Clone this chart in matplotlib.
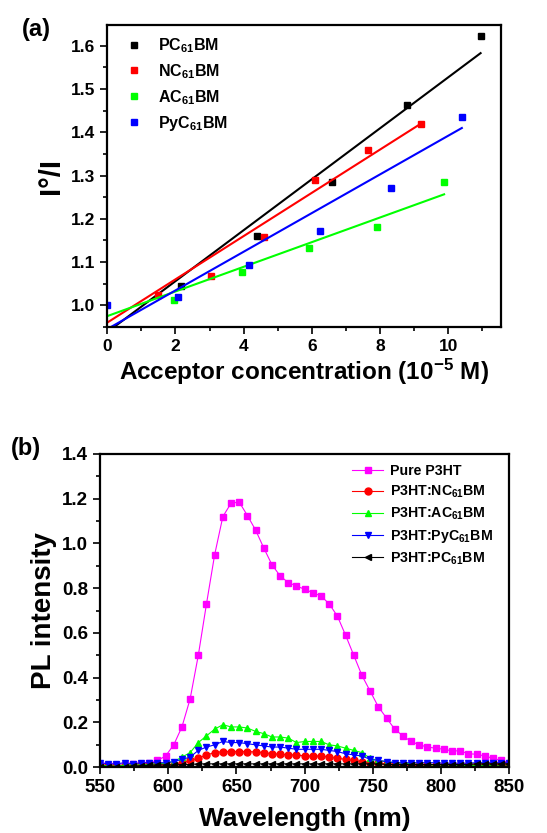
import numpy as np
import matplotlib
matplotlib.use("Agg")
import matplotlib.pyplot as plt
from matplotlib.ticker import MultipleLocator, FormatStrFormatter

plt.rcParams["font.family"] = ["Liberation Sans", "DejaVu Sans"]
plt.rcParams["font.weight"] = "bold"
plt.rcParams["mathtext.fontset"] = "custom"
plt.rcParams["mathtext.rm"] = "Liberation Sans:bold"
plt.rcParams["mathtext.it"] = "Liberation Sans:bold"
plt.rcParams["mathtext.bf"] = "Liberation Sans:bold"

# ---- panel (a): Stern-Volmer data ----
pc_x = [2.15, 4.4, 6.6, 8.8, 10.95]
pc_y = [1.045, 1.16, 1.285, 1.462, 1.623]
nc_x = [1.5, 3.05, 4.6, 6.1, 7.65, 9.2]
nc_y = [1.025, 1.068, 1.157, 1.29, 1.358, 1.42]
ac_x = [1.97, 3.95, 5.92, 7.9, 9.88]
ac_y = [1.012, 1.078, 1.133, 1.18, 1.285]
py_x = [0.0, 2.08, 4.15, 6.25, 8.33, 10.4]
py_y = [1.0, 1.02, 1.093, 1.172, 1.272, 1.435]

# linear fits (slope, intercept, x end)
pc_fit = (0.0589, 0.938, 10.95)
nc_fit = (0.0500, 0.960, 9.2)
ac_fit = (0.0285, 0.975, 9.88)
py_fit = (0.0447, 0.945, 10.4)

# ---- panel (b): PL spectra ----
wl = list(range(550, 851, 6))
pure = [0.01, 0.01, 0.01, 0.01, 0.015, 0.015, 0.02, 0.03, 0.05, 0.10,
        0.18, 0.305, 0.50, 0.73, 0.95, 1.12, 1.18, 1.185, 1.125, 1.06,
        0.98, 0.905, 0.855, 0.825, 0.81, 0.795, 0.78, 0.765, 0.73, 0.675,
        0.59, 0.50, 0.41, 0.34, 0.27, 0.22, 0.17, 0.14, 0.115, 0.10,
        0.09, 0.085, 0.08, 0.073, 0.073, 0.06, 0.058, 0.05, 0.04, 0.03, 0.02]
nc = [0.005, 0.005, 0.005, 0.005, 0.005, 0.008, 0.008, 0.01, 0.01, 0.012,
      0.02, 0.03, 0.04, 0.055, 0.065, 0.07, 0.07, 0.07, 0.07, 0.068,
      0.065, 0.06, 0.058, 0.055, 0.055, 0.05, 0.05, 0.05, 0.045, 0.04,
      0.035, 0.03, 0.025, 0.02, 0.018, 0.015, 0.012, 0.012, 0.01, 0.01,
      0.01, 0.01, 0.01, 0.012, 0.01, 0.01, 0.01, 0.01, 0.01, 0.01, 0.01]
ac = [0.01, 0.005, 0.005, 0.01, 0.01, 0.01, 0.012, 0.015, 0.018, 0.025,
      0.045, 0.065, 0.11, 0.14, 0.17, 0.19, 0.18, 0.18, 0.175, 0.16,
      0.15, 0.135, 0.135, 0.13, 0.11, 0.115, 0.115, 0.115, 0.10, 0.095,
      0.085, 0.075, 0.065, 0.04, 0.03, 0.025, 0.02, 0.018, 0.015, 0.012,
      0.01, 0.01, 0.01, 0.01, 0.008, 0.008, 0.008, 0.008, 0.008, 0.005, 0.005]
pyc = [0.02, 0.015, 0.015, 0.02, 0.015, 0.02, 0.02, 0.02, 0.02, 0.025,
       0.035, 0.045, 0.075, 0.09, 0.10, 0.115, 0.11, 0.11, 0.105, 0.10,
       0.095, 0.09, 0.09, 0.085, 0.08, 0.08, 0.08, 0.08, 0.075, 0.07,
       0.06, 0.055, 0.05, 0.035, 0.03, 0.025, 0.02, 0.02, 0.02, 0.02,
       0.02, 0.02, 0.018, 0.018, 0.018, 0.018, 0.02, 0.02, 0.02, 0.02, 0.02]
pc = [0.002, 0.002, 0.003, 0.003, 0.005, 0.006, 0.008, 0.01, 0.01, 0.01,
      0.012, 0.012, 0.015, 0.015, 0.015, 0.015, 0.015, 0.015, 0.015, 0.015,
      0.015, 0.015, 0.015, 0.015, 0.015, 0.015, 0.015, 0.015, 0.015, 0.015,
      0.015, 0.015, 0.015, 0.015, 0.015, 0.012, 0.012, 0.012, 0.012, 0.012,
      0.012, 0.012, 0.012, 0.012, 0.012, 0.012, 0.015, 0.015, 0.015, 0.015, 0.015]

fig = plt.figure(figsize=(5.47, 8.33), dpi=100)


def style_axes(ax, labelsize):
    for s in ax.spines.values():
        s.set_linewidth(1.6)
    ax.tick_params(which="both", direction="out", top=False, right=False,
                   width=1.2, labelsize=labelsize)
    ax.tick_params(which="major", length=5)
    ax.tick_params(which="minor", length=3)
    for lab in ax.get_xticklabels() + ax.get_yticklabels():
        lab.set_fontweight("bold")


# ---------- (a) ----------
ax1 = fig.add_axes([0.196, 0.6075, 0.72, 0.3625])
series_a = [
    (pc_x, pc_y, pc_fit, "black", r"PC$_{\mathrm{61}}$BM"),
    (nc_x, nc_y, nc_fit, "#ff0000", r"NC$_{\mathrm{61}}$BM"),
    (ac_x, ac_y, ac_fit, "#00ff00", r"AC$_{\mathrm{61}}$BM"),
    (py_x, py_y, py_fit, "#0000ff", r"PyC$_{\mathrm{61}}$BM"),
]
for x, y, (m, b, xe), c, lab in series_a:
    xf = np.array([0.0, xe])
    ax1.plot(xf, m * xf + b, color=c, lw=1.5)
    ax1.plot(x, y, "s", color=c, ms=5, label=lab, linestyle="none")

ax1.set_xlim(0, 11.55)
ax1.set_ylim(0.95, 1.648)
ax1.xaxis.set_major_locator(MultipleLocator(2))
ax1.xaxis.set_minor_locator(MultipleLocator(1))
ax1.yaxis.set_major_locator(MultipleLocator(0.1))
ax1.yaxis.set_minor_locator(MultipleLocator(0.05))
ax1.yaxis.set_major_formatter(FormatStrFormatter("%.1f"))
style_axes(ax1, 12.5)
ax1.set_xlabel(r"Acceptor concentration (10$^{\mathrm{-5}}$ M)", fontsize=17.5,
               fontweight="bold", labelpad=2)
ax1.set_ylabel("I°/I", fontsize=21, fontweight="bold", labelpad=4)
ax1.legend(loc="upper left", frameon=False, fontsize=11.5, handletextpad=0.45,
           labelspacing=0.45, borderaxespad=0.3, bbox_to_anchor=(0.0, 1.0))
fig.text(0.04, 0.978, "(a)", fontsize=17, fontweight="bold", va="top")

# ---------- (b) ----------
ax2 = fig.add_axes([0.183, 0.079, 0.748, 0.376])
series_b = [
    (pure, "#ff00ff", "s", "Pure P3HT"),
    (nc, "#ff0000", "o", r"P3HT:NC$_{\mathrm{61}}$BM"),
    (ac, "#00ff00", "^", r"P3HT:AC$_{\mathrm{61}}$BM"),
    (pyc, "#0000ff", "v", r"P3HT:PyC$_{\mathrm{61}}$BM"),
    (pc, "black", "<", r"P3HT:PC$_{\mathrm{61}}$BM"),
]
for y, c, mk, lab in series_b:
    ax2.plot(wl, y, color=c, marker=mk, ms=5, lw=0.8, label=lab)

ax2.set_xlim(550, 850)
ax2.set_ylim(0, 1.4)
ax2.xaxis.set_major_locator(MultipleLocator(50))
ax2.xaxis.set_minor_locator(MultipleLocator(25))
ax2.yaxis.set_major_locator(MultipleLocator(0.2))
ax2.yaxis.set_minor_locator(MultipleLocator(0.1))
ax2.yaxis.set_major_formatter(FormatStrFormatter("%.1f"))
style_axes(ax2, 13.5)
ax2.set_xlabel("Wavelength (nm)", fontsize=19, fontweight="bold", labelpad=8)
ax2.set_ylabel("PL intensity", fontsize=20, fontweight="bold", labelpad=4)
ax2.legend(loc="upper right", frameon=False, fontsize=10.2, handlelength=2.2,
           handletextpad=0.5, labelspacing=0.4, borderaxespad=0.3,
           bbox_to_anchor=(0.985, 1.0))
fig.text(0.02, 0.475, "(b)", fontsize=17, fontweight="bold", va="top")

fig.savefig("out.png", dpi=100)
